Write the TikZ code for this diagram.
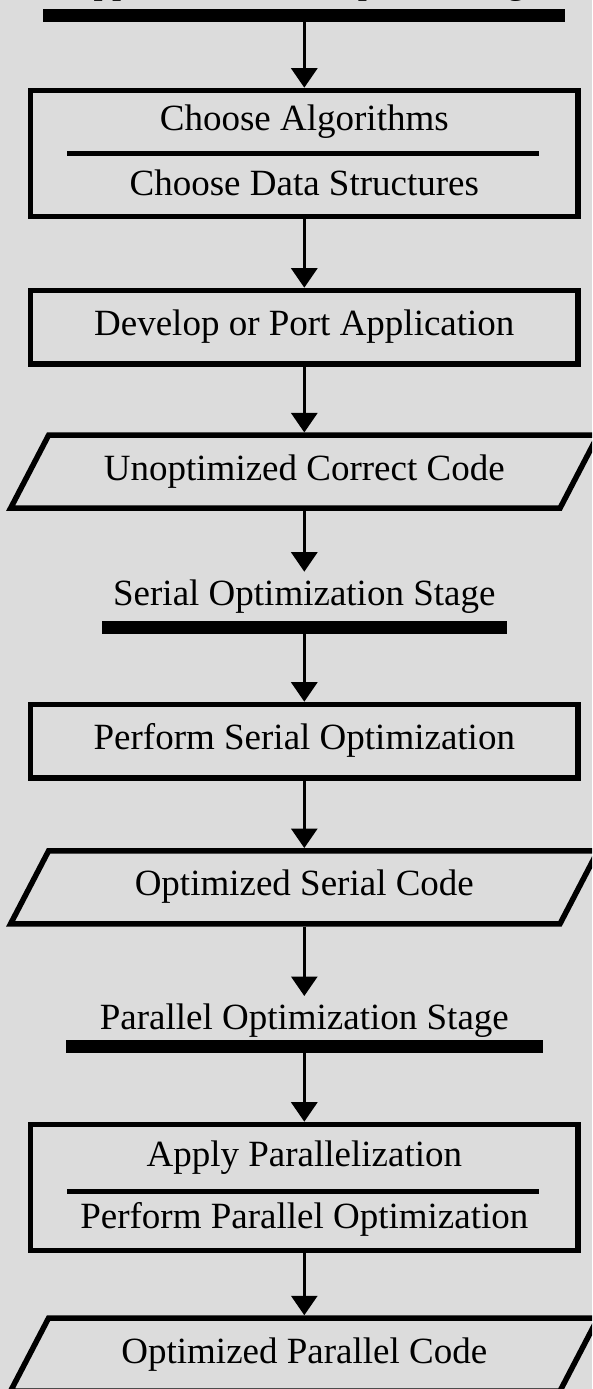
\documentclass[tikz,border=0pt]{standalone}
\usepackage{fontspec}
\setmainfont{Liberation Serif}
\usetikzlibrary{arrows.meta}
\definecolor{bggray}{RGB}{220,220,220}

\begin{document}
\begin{tikzpicture}[x=1pt,y=-1pt,
  every node/.style={font=\fontsize{37}{44}\selectfont, inner sep=0pt},
  txt/.style={text height=25.3pt, text depth=8pt},
  box/.style={draw, line width=5.5pt, minimum width=547.5pt, txt},
  datanode/.style={minimum width=549.4pt, minimum height=73pt, outer sep=2.75pt, txt},
  paraline/.style={line width=5.5pt, line join=miter},
  stagebar/.style={fill=black, minimum height=12.7pt, outer sep=0pt},
  stagelabel/.style={txt, outer ysep=8pt},
  sepline/.style={line width=5pt},
  flow/.style={line width=3pt, -{Triangle[length=19.5pt,width=26pt]}},
]
% page frame and background
\useasboundingbox (0,0) rectangle (592,1389);
\fill[bggray] (0,0) rectangle (592,1389);
\clip (0,0) rectangle (592,1389);

% development stage
\node[stagelabel, anchor=base] (s0) at (304.3,-6.9) {Application Development Stage};
\node[stagebar, minimum width=522pt] (b0) at (304.3,15.65) {};
\node[box, minimum height=125.8pt] (c1) at (304.3,153.35) {};
\node[txt, anchor=base] (c1a) at (304.3,130) {Choose Algorithms};
\node[txt, anchor=base] (c1b) at (304.3,195) {Choose Data Structures};
\draw[sepline] (67,153.3) -- (539,153.3);
\node[box, minimum height=73.5pt] (c2) at (304.3,327.2) {Develop or Port Application};
\node[datanode] (d1) at (304.3,471.7) {Unoptimized Correct Code};

% serial optimization stage
\node[stagelabel, anchor=base] (s1) at (304.3,605) {Serial Optimization Stage};
\node[stagebar, minimum width=404.6pt] (b1) at (304.3,627.65) {};
\node[box, minimum height=73.5pt] (c3) at (304.3,741.2) {Perform Serial Optimization};
\node[datanode] (d2) at (304.3,887.3) {Optimized Serial Code};

% parallel optimization stage
\node[stagelabel, anchor=base] (s2) at (304.3,1029.3) {Parallel Optimization Stage};
\node[stagebar, minimum width=476.5pt] (b2) at (304.3,1046.65) {};
\node[box, minimum height=126.1pt] (c4) at (304.3,1187.5) {};
\node[txt, anchor=base] (c4a) at (304.3,1166.7) {Apply Parallelization};
\node[txt, anchor=base] (c4b) at (304.3,1228.3) {Perform Parallel Optimization};
\draw[sepline] (67,1191.7) -- (539,1191.7);
\node[datanode] (d3) at (304.3,1354.5) {Optimized Parallel Code};

% data (parallelogram) outlines
\foreach \d in {d1,d2,d3}
  \draw[paraline] (\d.center) ++(-255.7,-36.5) -- ++(549.4,0) -- ++(-38,73) -- ++(-549.4,0) -- cycle;

% flow arrows
\draw[flow] (b0.south) -- (c1.north);
\draw[flow] (c1.south) -- (c2.north);
\draw[flow] (c2.south) -- (d1.north);
\draw[flow] (d1.south) -- (s1.north);
\draw[flow] (b1.south) -- (c3.north);
\draw[flow] (c3.south) -- (d2.north);
\draw[flow] (d2.south) -- (s2.north);
\draw[flow] (b2.south) -- (c4.north);
\draw[flow] (c4.south) -- (d3.north);
\end{tikzpicture}
\end{document}
